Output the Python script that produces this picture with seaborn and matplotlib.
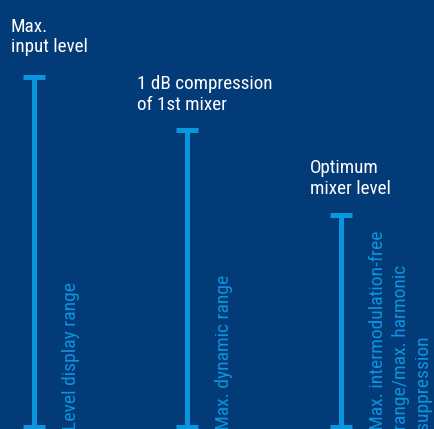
import matplotlib
matplotlib.use("Agg")
import matplotlib.pyplot as plt
import seaborn as sns
import pandas as pd

# ---- data ----
range_names = ["Level display range",
               "Max. dynamic range",
               "Max. intermodulation-free\nrange/max. harmonic\nsuppression"]
top_labels = ["Max.\ninput level",
              "1 dB compression\nof 1st mixer",
              "Optimum\nmixer level"]
top_level = [350, 297, 212]
bottom_level = [0, 0, 0]

# ---- style ----
BG = "#033a78"
BLUE = "#0a96de"
sns.set_theme(style="white", rc={"axes.facecolor": BG, "figure.facecolor": BG,
                                 "savefig.facecolor": BG})
plt.rcParams["font.family"] = ["Roboto Condensed", "Roboto", "DejaVu Sans"]

df = pd.DataFrame({
    "range": [r for r in range_names for _ in range(2)],
    "pos": [i for i in range(len(range_names)) for _ in range(2)],
    "level": [v for pair in zip(bottom_level, top_level) for v in pair],
})

fig = plt.figure(figsize=(4.35, 4.29), dpi=100)
ax = fig.add_axes([0, 0, 1, 1])
sns.lineplot(data=df, x="pos", y="level", units="range", estimator=None,
             sort=False, color=BLUE, lw=3.6, marker="_", markersize=16,
             mew=3.6, mec=BLUE, ax=ax, legend=False)
ax.set_xlim(-34 / 153.5, 2 + 94 / 153.5)
ax.set_ylim(-2.5, 426.5)
ax.axis("off")

# top labels (pixel offsets from cap)
label_offsets = [(-23, 20), (-50, 16), (-31, 16.5)]
for i, (lab, top) in enumerate(zip(top_labels, top_level)):
    dx, dy = label_offsets[i]
    ax.annotate(lab, xy=(i, top), xytext=(dx, dy), textcoords="offset pixels",
                ha="left", va="bottom", color="white", fontsize=13.8,
                linespacing=1.2)

# rotated labels next to each line
for i, (name, bot) in enumerate(zip(range_names, bottom_level)):
    ax.annotate(name, xy=(i, bot), xytext=(28, -3), textcoords="offset pixels",
                rotation=90, rotation_mode="anchor", ha="left", va="top",
                color=BLUE, fontsize=14.0, linespacing=1.33, fontweight="normal",
                multialignment="left", annotation_clip=False)

fig.savefig("out.png", dpi=100, facecolor=BG)
